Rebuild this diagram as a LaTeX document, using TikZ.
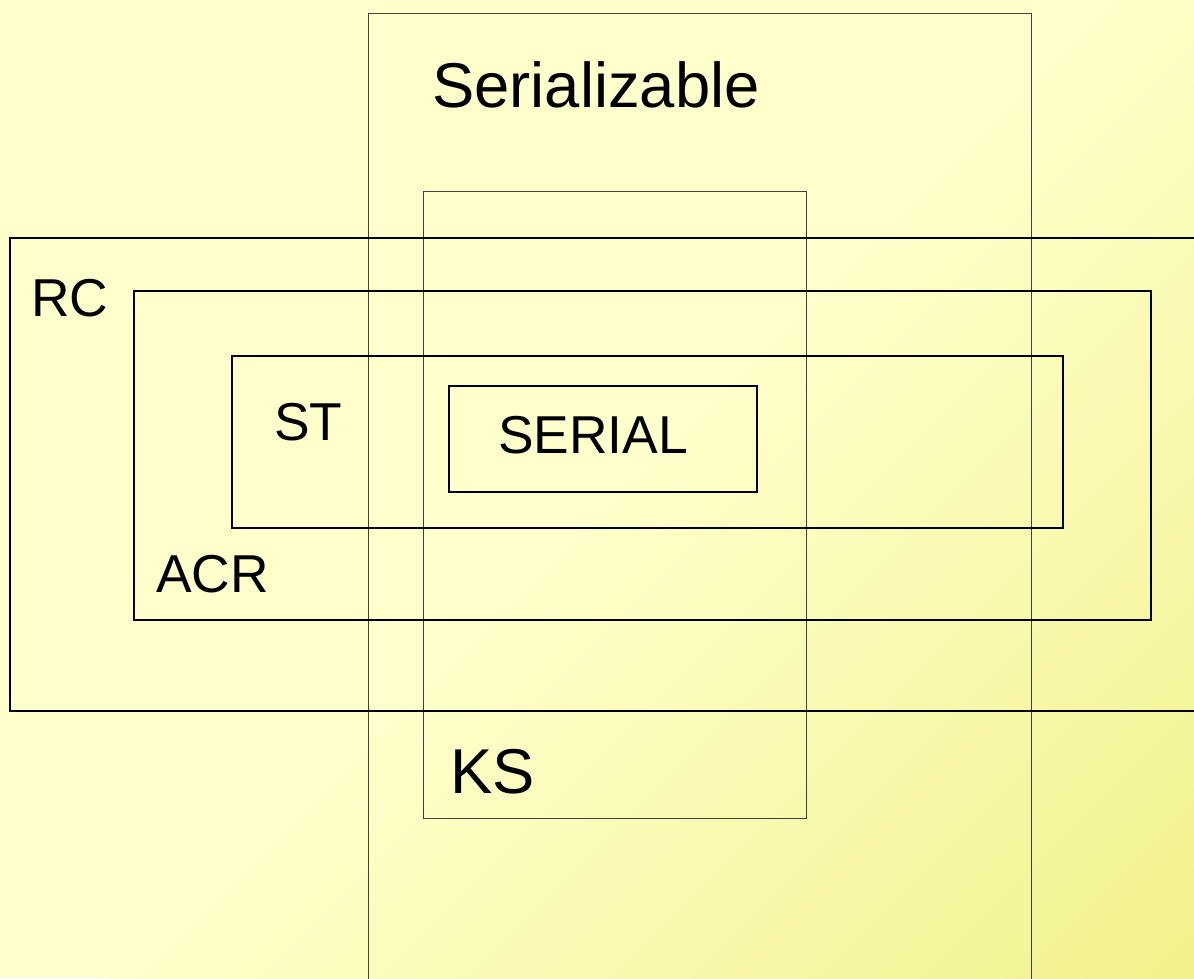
\documentclass[tikz,border=0pt]{standalone}
\usepackage{fontspec}
\setmainfont{Liberation Sans}
\definecolor{bgA}{RGB}{255,255,204}
\definecolor{bgB}{RGB}{241,241,140}
\begin{document}
\begin{tikzpicture}[x=0.75pt,y=-0.75pt,
  thinbox/.style={draw=black!75, line width=0.75pt},
  thickbox/.style={draw=black, line width=1.5pt},
  small/.style={anchor=base west, inner sep=0pt, font=\fontsize{40}{40}\selectfont},
  big/.style={anchor=base west, inner sep=0pt, font=\fontsize{47.5}{47.5}\selectfont}]
  \useasboundingbox (0,0) rectangle (1194,978);
  \clip (0,0) rectangle (1194,978);
  % background: diagonal gradient, flat in the upper-left half
  \fill[bgA] (0,0) rectangle (1194,978);
  \foreach \i [evaluate=\i as \a using 1086+\i*13.575,
               evaluate=\i as \p using (\i+0.5)*1.25] in {0,...,79}
    \fill[bgB!\p!bgA] (\a,0) -- (\a+15,0) -- (0,\a+15) -- (0,\a) -- cycle;
  % class regions
  \draw[thinbox] (368,13) rectangle (1031,990);   % Serializable
  \draw[thinbox] (423,191) rectangle (806,818);   % KS
  \draw[thickbox] (10,238) rectangle (1200,711);  % RC
  \draw[thickbox] (134,291) rectangle (1151,620); % ACR
  \draw[thickbox] (232,356) rectangle (1063,528); % ST
  \draw[thickbox] (449,386) rectangle (757,492);  % SERIAL
  % labels
  \node[big]   (lser) at (432,107) {Serializable};
  \node[big]   (lks)  at (450,793) {KS};
  \node[small] (lrc)  at (31,316)  {RC};
  \node[small] (lacr) at (156,592) {ACR};
  \node[small] (lst)  at (274,440) {ST};
  \node[small] (lsl)  at (498,453) {SERIAL};
\end{tikzpicture}
\end{document}
